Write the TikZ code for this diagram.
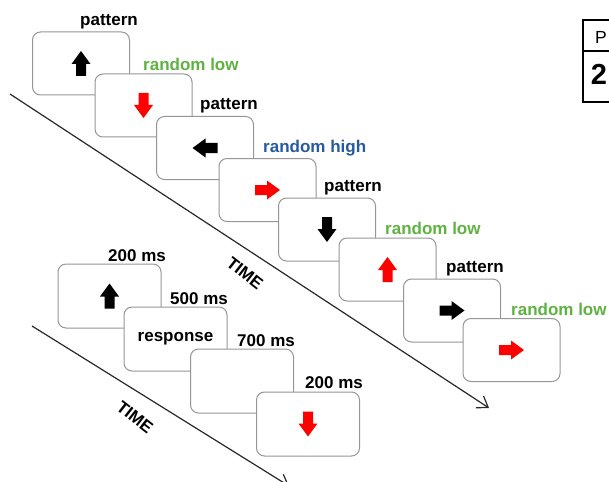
\documentclass[tikz,border=0pt]{standalone}
\usepackage{fontspec}
\setmainfont{Liberation Sans}
\usetikzlibrary{arrows.meta}
\definecolor{lowgreen}{RGB}{94,178,66}
\definecolor{highblue}{RGB}{38,90,160}
\definecolor{framegray}{RGB}{150,150,150}
\definecolor{cuered}{RGB}{255,0,0}
\definecolor{axisgray}{RGB}{40,40,40}
\begin{document}
\begin{tikzpicture}[x=1pt,y=-1pt,
  trial/.style={draw=framegray, line width=1pt, fill=white, rounded corners=8pt,
    minimum width=97pt, minimum height=63pt, inner sep=0pt},
  trialwide/.style={trial, minimum width=103pt, minimum height=64pt},
  lab/.style={font=\fontsize{17}{17}\selectfont\bfseries, inner sep=0pt, anchor=south west},
  boxtext/.style={font=\fontsize{17}{17}\selectfont\bfseries, inner sep=0pt},
  timelab/.style={font=\fontsize{17}{17}\selectfont\bfseries, inner sep=0pt},
  timeline/.style={draw=axisgray, line width=1.2pt, -{Straight Barb[length=10pt,width=14pt]}},
  blk/.pic={\fill[#1] (0,-12.5) -- (9.5,0.5) -- (5,0.5) -- (5,12.5) -- (-5,12.5) -- (-5,0.5) -- (-9.5,0.5) -- cycle;}
]
\useasboundingbox (0,0) rectangle (609,481);
\clip (0,0) rectangle (609,481);

% time axes
\coordinate (t1a) at (10,94);
\coordinate (t1b) at (489,408);
\coordinate (t2a) at (32,326);
\coordinate (t2b) at (289,486);
\draw[timeline] (t1a) -- (t1b);
\draw[timeline] (t2a) -- (t2b);
\node[timelab, rotate=-38] (time1) at (245,273) {TIME};
\node[timelab, rotate=-38] (time2) at (135,417) {TIME};

% stimulus sequence
\node[trial] (b1) at (81,63.5) {};
\pic[rotate=0] at (b1.center) {blk=black};
\node[trial] (b2) at (143.5,105.5) {};
\pic[rotate=180] at (b2.center) {blk=cuered};
\node[trial] (b3) at (205,148) {};
\pic[rotate=90] at (b3.center) {blk=black};
\node[trial] (b4) at (267.5,190) {};
\pic[rotate=-90] at (b4.center) {blk=cuered};
\node[trial] (b5) at (327,229.5) {};
\pic[rotate=180] at (b5.center) {blk=black};
\node[trial] (b6) at (387.5,269.5) {};
\pic[rotate=0] at (b6.center) {blk=cuered};
\node[trial] (b7) at (452,310.5) {};
\pic[rotate=-90] at (b7.center) {blk=black};
\node[trial] (b8) at (511.5,350) {};
\pic[rotate=-90] at (b8.center) {blk=cuered};

\node[lab] (l1) at ([xshift=-1pt,yshift=2.5pt]b1.north) {pattern};
\node[lab, text=lowgreen] (l2) at ([xshift=-0.5pt,yshift=2.5pt]b2.north) {random low};
\node[lab] (l3) at ([xshift=-5pt,yshift=2.5pt]b3.north) {pattern};
\node[lab, text=highblue] (l4) at ([xshift=-4.5pt,yshift=2pt]b4.north) {random high};
\node[lab] (l5) at ([xshift=-3pt,yshift=2.5pt]b5.north) {pattern};
\node[lab, text=lowgreen] (l6) at ([xshift=-2.5pt,yshift=2.5pt]b6.north) {random low};
\node[lab] (l7) at ([xshift=-6pt,yshift=2.5pt]b7.north) {pattern};
\node[lab, text=lowgreen] (l8) at ([xshift=-0.5pt,yshift=2.5pt]b8.north) {random low};

% timing of a single trial
\node[trialwide] (ta) at (109.5,296) {};
\pic at (ta.center) {blk=black};
\node[trialwide] (tb) at (175.5,339) {};
\node[boxtext] (resp) at (tb.center) {response};
\node[trialwide] (tc) at (242,381) {};
\node[trialwide] (td) at (308,424) {};
\pic[rotate=180] at (td.center) {blk=cuered};

\node[lab] (d1) at ([xshift=-1.5pt,yshift=1.5pt]ta.north) {200 ms};
\node[lab] (d2) at ([xshift=-5.5pt,yshift=2pt]tb.north) {500 ms};
\node[lab] (d3) at ([xshift=-5pt,yshift=2pt]tc.north) {700 ms};
\node[lab] (d4) at ([xshift=-3pt,yshift=3pt]td.north) {200 ms};

% table corner
\draw[line width=1.3pt] (583,20) rectangle (640,102);
\draw[line width=1.3pt] (583,51) -- (640,51);
\node[font=\fontsize{17.5}{17.5}\selectfont, inner sep=0pt] (pcell) at (601,37) {P};
\node[font=\fontsize{29}{29}\selectfont\bfseries, inner sep=0pt] (twocell) at (599,74.5) {2};
\end{tikzpicture}
\end{document}
